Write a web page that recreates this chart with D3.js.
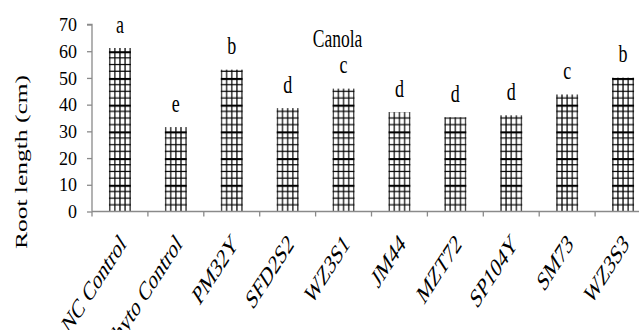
<!DOCTYPE html>
<html>
<head>
<meta charset="utf-8">
<script src="https://cdn.jsdelivr.net/npm/d3@7/dist/d3.min.js"></script>
<style>
  html, body { margin: 0; padding: 0; background: #fff; }
  svg { display: block; }
  text { font-family: "Liberation Serif", "Times New Roman", serif; fill: #000; }
</style>
</head>
<body>
<script>
const categories = ["NC Control", "Phyto Control", "PM32Y", "SFD2S2", "WZ3S1", "JM44", "MZT72", "SP104Y", "SM73", "WZ3S3"];
const rootLength = [61.2, 31.6, 53.1, 38.7, 46.0, 37.2, 35.3, 36.0, 43.8, 50.1];
const letters = ["a", "e", "b", "d", "c", "d", "d", "d", "c", "b"];
const yTicks = [0, 10, 20, 30, 40, 50, 60, 70];
const chartTitle = "Canola";
const yTitle = "Root length (cm)";

const W = 639, H = 330;
const svg = d3.select("body").append("svg").attr("width", W).attr("height", H);

const x = d3.scaleBand().domain(categories).range([92, 651]).paddingInner(0).paddingOuter(0);
const y = d3.scaleLinear().domain([0, 70]).range([211.5, 24.5]);
const bw = 22;
const axisColor = "#8a8a8a";

// patterns
const defs = svg.append("defs");
const hstep = (y(0) - y(10)) / 4;
categories.forEach((c, i) => {
  const bx = x(c) + x.bandwidth() / 2 - bw / 2;
  const pw = (bw - 1.4) / 4;
  const p = defs.append("pattern")
    .attr("id", "pat" + i)
    .attr("patternUnits", "userSpaceOnUse")
    .attr("x", bx + 0.7 - pw / 2)
    .attr("y", y(0) - 4 * hstep)
    .attr("width", pw)
    .attr("height", 4 * hstep);
  p.append("rect").attr("width", pw).attr("height", 4 * hstep).attr("fill", "#fff");
  p.append("line").attr("x1", pw / 2).attr("x2", pw / 2).attr("y1", 0).attr("y2", 4 * hstep)
    .attr("stroke", "#000").attr("stroke-width", 1.2);
  [0, 1, 2, 3].forEach(k => {
    const yy = k * hstep + (k === 0 ? 1 : 0);
    p.append("line").attr("x1", 0).attr("x2", pw).attr("y1", yy).attr("y2", yy)
      .attr("stroke", "#000").attr("stroke-width", k === 0 ? 2.2 : 1.2);
  });
});

// bars
svg.append("g").selectAll("rect").data(categories).join("rect")
  .attr("x", d => x(d) + x.bandwidth() / 2 - bw / 2)
  .attr("width", bw)
  .attr("y", (d, i) => y(rootLength[i]))
  .attr("height", (d, i) => y(0) - y(rootLength[i]))
  .attr("fill", (d, i) => `url(#pat${i})`);

// y axis
const yAxis = d3.axisLeft(y).tickValues(yTicks).tickSize(5).tickPadding(10).tickFormat(d3.format("d"));
const gy = svg.append("g").attr("transform", "translate(92,0)").call(yAxis);
gy.select(".domain").attr("stroke", axisColor).attr("stroke-width", 1.3).attr("d", `M-5,${y(70)}H0V${y(0)}`);
gy.selectAll(".tick line").attr("stroke", axisColor).attr("stroke-width", 1.3);
gy.selectAll(".tick text").attr("font-size", 18).attr("font-family", "Liberation Serif").attr("fill", "#000")
  .attr("dy", "0.34em");

// x axis line and ticks at band boundaries
const gx = svg.append("g");
gx.append("line").attr("x1", 92).attr("x2", W).attr("y1", y(0)).attr("y2", y(0))
  .attr("stroke", axisColor).attr("stroke-width", 1.3);
gx.selectAll("line.tk").data(categories).join("line").attr("class", "tk")
  .attr("x1", d => x(d)).attr("x2", d => x(d))
  .attr("y1", y(0)).attr("y2", y(0) + 5)
  .attr("stroke", axisColor).attr("stroke-width", 1.3);

// x labels
gx.selectAll("text").data(categories).join("text")
  .attr("transform", d => `translate(${x(d) + x.bandwidth() / 2 + 7},${y(0) + 34}) scale(1,1.55) rotate(-45)`)
  .attr("text-anchor", "end")
  .attr("font-size", 17.5)
  .text(d => d);

// significance letters
svg.append("g").selectAll("text").data(categories).join("text")
  .attr("transform", (d, i) => `translate(${x(d) + x.bandwidth() / 2},${y(rootLength[i]) - 15.5}) scale(1,1.4)`)
  .attr("text-anchor", "middle")
  .attr("font-size", 18)
  .text((d, i) => letters[i]);

// chart title
svg.append("text")
  .attr("transform", `translate(337.5,47) scale(1,1.45)`)
  .attr("text-anchor", "middle")
  .attr("font-size", 17.5)
  .text(chartTitle);

// y title
svg.append("text")
  .attr("transform", `translate(27,162) scale(1,1.5) rotate(-90)`)
  .attr("text-anchor", "middle")
  .attr("font-size", 17)
  .text(yTitle);
</script>
</body>
</html>
